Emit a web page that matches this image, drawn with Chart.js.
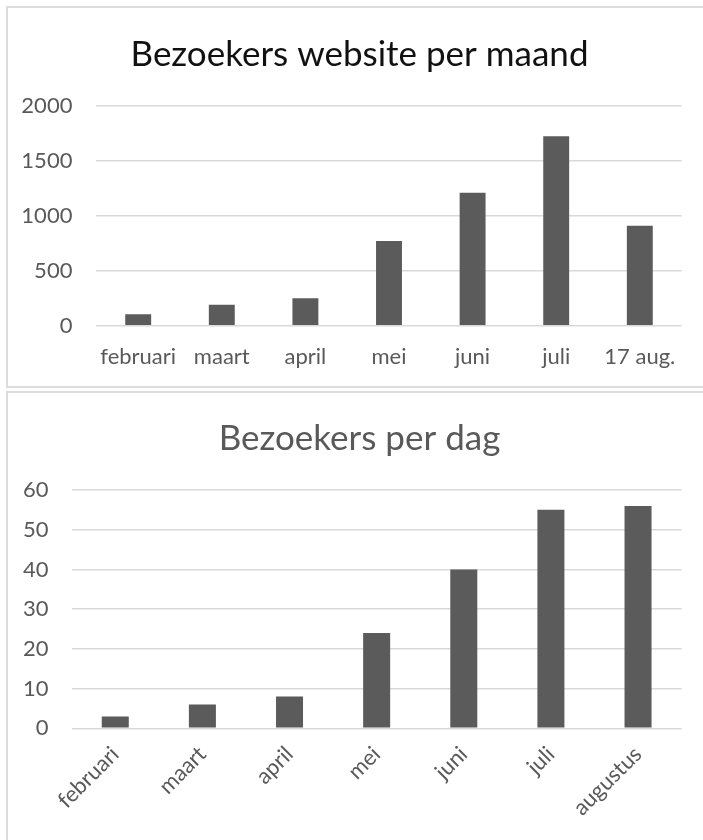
<!DOCTYPE html>
<html>
<head>
<meta charset="utf-8">
<script src="https://cdn.jsdelivr.net/npm/chart.js@4.4.0/dist/chart.umd.min.js"></script>
<style>
  html, body { margin: 0; padding: 0; background: #fff; width: 703px; height: 840px; overflow: hidden; position: relative; }
  .frame { position: absolute; box-sizing: border-box; border: 2px solid #dcdcdc; }
  .wrap { position: absolute; }
</style>
</head>
<body>
<div class="frame" style="left:6px; top:6px; width:720px; height:382px;"></div>
<div class="frame" style="left:6px; top:391px; width:720px; height:470px;"></div>
<div class="wrap" style="left:7px; top:7px; width:705px; height:380px;"><canvas id="c1" width="705" height="380"></canvas></div>
<div class="wrap" style="left:7px; top:392px; width:705px; height:448px;"><canvas id="c2" width="705" height="448"></canvas></div>
<script>
// ---- data ----
const monthCategories = ["februari", "maart", "april", "mei", "juni", "juli", "17 aug."];
const monthVisitors = [105, 190, 250, 770, 1210, 1725, 910];
const monthTicks = [0, 500, 1000, 1500, 2000];

const dayCategories = ["februari", "maart", "april", "mei", "juni", "juli", "augustus"];
const dayVisitors = [3, 6, 8, 24, 40, 55, 56];
const dayTicks = [0, 10, 20, 30, 40, 50, 60];

const title1 = "Bezoekers website per maand";
const title2 = "Bezoekers per dag";

// ---- styles ----
const FONT = "Lato, 'Open Sans', sans-serif";
const BAR = "#5b5b5b";
const GRID = "#d9d9d9";
const TXT = "#595959";

function makeChart(id, cats, vals, ticks, title, titleColor, opts) {
  return new Chart(document.getElementById(id), {
    type: "bar",
    data: {
      labels: cats,
      datasets: [{
        data: vals,
        backgroundColor: BAR,
        borderWidth: 0,
        barPercentage: 0.31,
        categoryPercentage: 1
      }]
    },
    options: {
      responsive: false,
      animation: false,
      devicePixelRatio: 1,
      layout: { padding: 0 },
      plugins: {
        legend: { display: false },
        tooltip: { enabled: false },
        title: {
          display: true,
          text: title,
          color: titleColor,
          font: { family: FONT, size: opts.titleSize, weight: "normal" },
          padding: { top: opts.titleTop, bottom: opts.titleBottom }
        }
      },
      scales: {
        x: {
          grid: { display: false },
          border: { display: false },
          ticks: {
            color: TXT,
            font: { family: FONT, size: opts.tickSize },
            padding: opts.xPad,
            autoSkip: false,
            minRotation: opts.rot,
            maxRotation: opts.rot
          },
          afterFit: s => { s.height = opts.xHeight; }
        },
        y: {
          min: ticks[0],
          max: ticks[ticks.length - 1],
          afterBuildTicks: s => { s.ticks = ticks.map(v => ({ value: v })); },
          grid: { color: GRID, lineWidth: 1.5, drawTicks: false },
          border: { display: false },
          ticks: {
            color: TXT,
            font: { family: FONT, size: opts.tickSize },
            padding: opts.yPad,
            callback: v => String(v)
          },
          afterFit: s => { s.width = opts.yWidth; }
        },
        spacer: {
          type: "linear",
          position: "right",
          grid: { display: false, drawTicks: false },
          border: { display: false },
          ticks: { display: false },
          afterFit: s => { s.width = opts.rightSpace; }
        }
      }
    }
  });
}

makeChart("c1", monthCategories, monthVisitors, monthTicks, title1, "#111111", {
  rightSpace: 30.4, titleSize: 35, titleTop: 27, titleBottom: 30,
  tickSize: 22, xPad: 10, rot: 0, xHeight: 61.3, yPad: 24, yWidth: 89.4
});

makeChart("c2", dayCategories, dayVisitors, dayTicks, title2, TXT, {
  rightSpace: 30.4, titleSize: 35, titleTop: 26, titleBottom: 30,
  tickSize: 22, xPad: 5, rot: 45, xHeight: 111.7, yPad: 23.3, yWidth: 64.7
});
</script>
</body>
</html>
